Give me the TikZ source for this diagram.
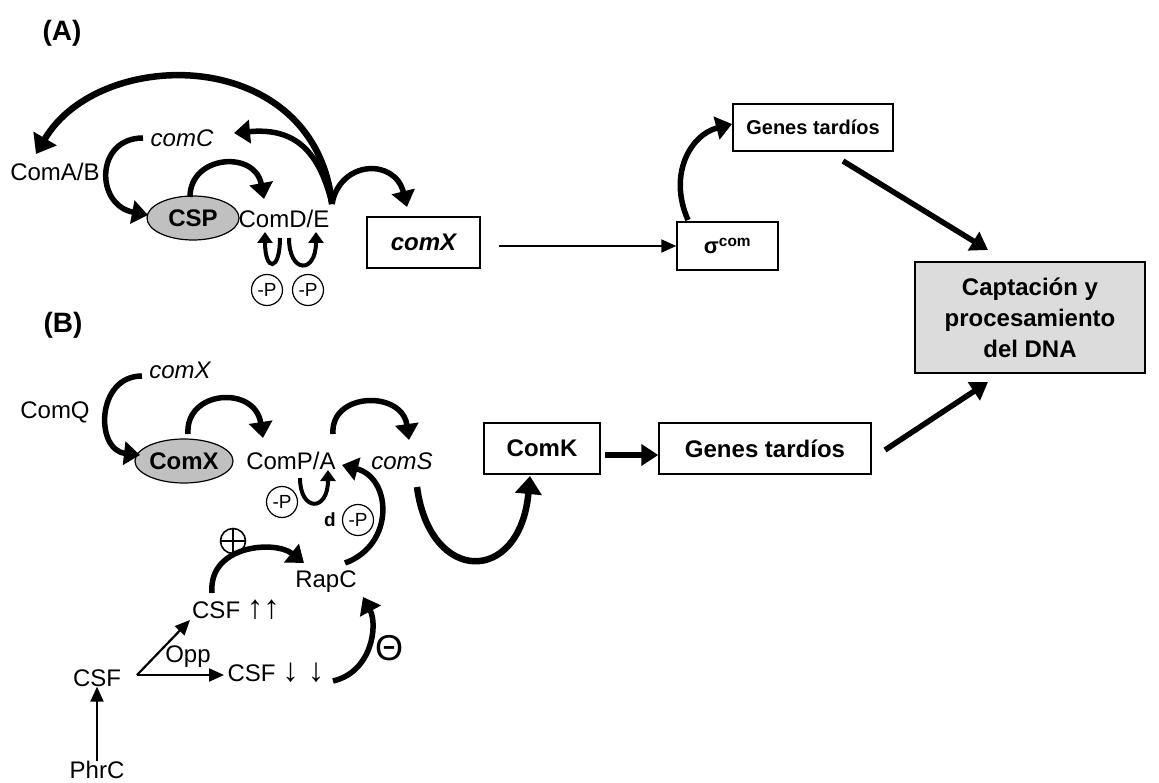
\documentclass[tikz,border=0pt]{standalone}
\usepackage{fontspec}
\setmainfont{Liberation Sans}
\usetikzlibrary{arrows.meta,shapes.geometric}
\definecolor{ellgray}{HTML}{C0C0C0}
\definecolor{boxgray}{HTML}{DCDCDC}
\begin{document}
\begin{tikzpicture}[x=1pt,y=-1pt,
  lbl/.style={inner sep=0pt,font=\fontsize{24}{28}\selectfont},
  ilbl/.style={inner sep=0pt,font=\fontsize{24}{28}\selectfont\itshape},
  panel/.style={inner sep=0pt,font=\fontsize{28}{30}\selectfont\bfseries},
  ell/.style={ellipse,draw,line width=1.2pt,fill=ellgray,inner sep=0pt,font=\fontsize{24}{28}\selectfont\bfseries},
  boxa/.style={draw,line width=1.5pt,inner sep=0pt,font=\fontsize{20}{24}\selectfont\bfseries},
  boxb/.style={draw,line width=1.5pt,inner sep=0pt,font=\fontsize{24}{28}\selectfont\bfseries},
  pc/.style={circle,draw,line width=1.2pt,inner sep=0pt,minimum size=31pt,font=\fontsize{19}{20}\selectfont},
  carrow/.style={line width=5.5pt,-{Triangle[length=16pt,width=23pt]}},
  bigarrow/.style={line width=6.5pt,-{Triangle[length=18pt,width=26pt]}},
  uarrow/.style={line width=4pt,-{Triangle[length=11pt,width=15pt]}},
  thinarrow/.style={line width=2.2pt,-{Triangle[length=15pt,width=13pt]}},
  fatline/.style={line width=5.5pt,-{Triangle[length=17pt,width=21pt]}},
  plussign/.style={circle,draw,line width=1.6pt,inner sep=0pt,minimum size=25pt,
    path picture={\draw[line width=1.6pt] (path picture bounding box.north) -- (path picture bounding box.south)
      (path picture bounding box.west) -- (path picture bounding box.east);}}
]
\useasboundingbox (0,0) rectangle (1159,783);

% ---------------- Panel A ----------------
\node[panel] (labA) at (62,33) {(A)};
\node[ilbl] (comC) at (182,138) {comC};
\node[lbl] (comAB) at (55,172) {ComA/B};
\node[ell,minimum width=92pt,minimum height=44pt] (csp) at (193,218) {CSP};
\node[lbl] (comDE) at (284,219) {ComD/E};
\node[pc] (p1) at (267,290) {-P};
\node[pc] (p2) at (308,290) {-P};
\node[boxa,minimum width=113pt,minimum height=51pt,font=\fontsize{24}{26}\selectfont\bfseries\itshape] (comXbox) at (423.5,242.5) {comX};
\node[boxa,minimum width=101pt,minimum height=48pt,font=\fontsize{22}{24}\selectfont\bfseries] (sigma) at (727.5,246) {σ\textsuperscript{com}};
\node[boxa,minimum width=160pt,minimum height=47pt,font=\fontsize{20}{22}\selectfont\bfseries] (genesA) at (813,127.5) {Genes tardíos};
\node[boxb,fill=boxgray,minimum width=230pt,minimum height=111pt,align=center,font=\fontsize{24}{31}\selectfont\bfseries] (capt) at (1030,317.5) {Captación y\\procesamiento\\del DNA};

\coordinate (deTop) at (332,204);
\coordinate (abTip) at (36,154);
\coordinate (cTip) at (234,133);
\coordinate (cStart) at (143,138);
\coordinate (cspTip) at (148,215);
\coordinate (cspTop) at (190,197);
\coordinate (deTip) at (264,199);
\coordinate (xTip) at (407,207);
\coordinate (u1a) at (280,238);
\coordinate (u1b) at (265,232);
\coordinate (u2a) at (289,238);
\coordinate (u2b) at (316,232);
\coordinate (xOut) at (499,246);
\coordinate (sigTop) at (688,220);
\coordinate (gaTip) at (732,124);
\coordinate (gaOut) at (843,161);
\coordinate (captTip1) at (988,250);

\draw[bigarrow] (deTop) .. controls (315,45) and (100,45) .. (abTip);
\draw[carrow] (deTop) .. controls (318,145) and (290,128) .. (cTip);
\draw[carrow] (cStart) .. controls (95,138) and (95,205) .. (cspTip);
\draw[carrow] (cspTop) .. controls (190,155) and (255,150) .. (deTip);
\draw[carrow] (deTop) .. controls (340,160) and (395,158) .. (xTip);
\draw[uarrow] (u1a) .. controls (280,272) and (265,272) .. (u1b);
\draw[uarrow] (u2a) .. controls (289,274) and (316,274) .. (u2b);
\draw[thinarrow] (xOut) -- (sigma.west |- xOut);
\draw[carrow] (sigTop) .. controls (668,175) and (690,135) .. (gaTip);
\draw[fatline] (gaOut) -- (captTip1);

% ---------------- Panel B ----------------
\node[panel] (labB) at (63,325) {(B)};
\node[ilbl] (comXi) at (180,370) {comX};
\node[lbl] (comQ) at (55,412) {ComQ};
\node[ell,minimum width=92pt,minimum height=44pt] (comXe) at (184,461) {ComX};
\node[lbl] (comPA) at (291,461) {ComP/A};
\node[ilbl] (comS) at (402,461) {comS};
\node[boxb,minimum width=116pt,minimum height=51pt] (comK) at (542,448.5) {ComK};
\node[boxb,minimum width=212pt,minimum height=51pt] (genesB) at (765,448.5) {Genes tardíos};
\node[pc] (p3) at (282,502) {-P};
\node[inner sep=0pt,font=\fontsize{19}{20}\selectfont\bfseries] (dlab) at (330,520) {d};
\node[pc] (p4) at (358,520) {-P};
\node[lbl] (rapC) at (326,582) {RapC};
\node[plussign] (plus) at (233,541) {};
\node[inner sep=0pt,font=\fontsize{36}{38}\selectfont] (minus) at (389,648) {Θ};
\node[lbl] (csfUp) at (236,610) {CSF {\fontsize{33}{30}\selectfont ↑↑}};
\node[lbl] (csfDn) at (276,673) {CSF {\fontsize{33}{30}\selectfont ↓ ↓}};
\node[lbl] (opp) at (188,657) {Opp};
\node[lbl] (csf) at (97,678) {CSF};
\node[lbl] (phrC) at (97,770) {PhrC};

\coordinate (xiStart) at (142,376);
\coordinate (xeTip) at (140,455);
\coordinate (xeTop) at (188,434);
\coordinate (paTip) at (263,438);
\coordinate (paTop) at (333,434);
\coordinate (sTip) at (409,440);
\coordinate (u3a) at (300,478);
\coordinate (u3b) at (328,470);
\coordinate (rTop) at (345,563);
\coordinate (paTip2) at (342,465);
\coordinate (upOut) at (212,593);
\coordinate (rTip1) at (304,563);
\coordinate (dnOut) at (333,681);
\coordinate (rTip2) at (363,597);
\coordinate (csfOut) at (137,675);
\coordinate (upTip) at (190,620);
\coordinate (dnTip) at (224,675);
\coordinate (sBot) at (417,487);
\coordinate (kTip) at (530,476);
\coordinate (kOut) at (605,455);
\coordinate (captTip2) at (988,382);
\coordinate (gbOut) at (885,450);

\draw[carrow] (xiStart) .. controls (96,376) and (95,450) .. (xeTip);
\draw[carrow] (xeTop) .. controls (185,390) and (255,385) .. (paTip);
\draw[carrow] (paTop) .. controls (330,392) and (402,390) .. (sTip);
\draw[uarrow] (u3a) .. controls (300,512) and (328,512) .. (u3b);
\draw[carrow] (rTop) .. controls (395,545) and (392,478) .. (paTip2);
\draw[carrow] (upOut) .. controls (208,545) and (275,540) .. (rTip1);
\draw[carrow] (dnOut) .. controls (372,672) and (378,625) .. (rTip2);
\draw[thinarrow] (csfOut) -- (upTip);
\draw[thinarrow] (csfOut) -- (dnTip);
\draw[thinarrow] (phrC.north) -- (csf.south);
\draw[bigarrow] (sBot) .. controls (430,585) and (520,585) .. (kTip);
\draw[fatline] (kOut) -- (kOut -| genesB.west);
\draw[fatline] (gbOut) -- (captTip2);
\end{tikzpicture}
\end{document}
